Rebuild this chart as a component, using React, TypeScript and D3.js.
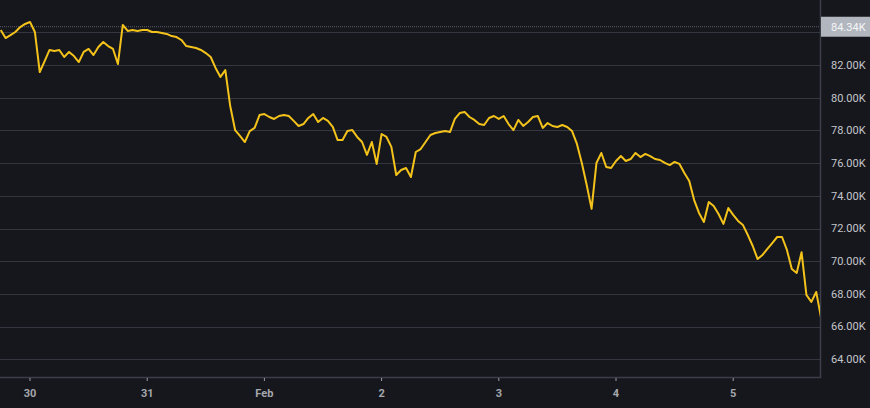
import React, { useEffect, useRef } from 'react'
import * as d3 from 'd3'

// hourly closes, in thousands, starting Jan 29 18:00
const startTime = new Date(2026, 0, 29, 18)
const prices = [
  84.14, 83.65, 83.83, 84.02, 84.32, 84.51, 84.63, 84.02, 81.57, 82.24,
  82.92, 82.86, 82.92, 82.49, 82.8, 82.55, 82.18, 82.8, 82.98, 82.61,
  83.1, 83.41, 83.16, 82.98, 82.06, 84.45, 84.08, 84.14, 84.08, 84.14,
  84.14, 84.02, 84.02, 83.96, 83.9, 83.77, 83.71, 83.53, 83.16, 83.1,
  83.04, 82.92, 82.73, 82.49, 81.82, 81.27, 81.69, 79.49, 78.02, 77.66,
  77.29, 77.96, 78.15, 78.94, 79.0, 78.82, 78.7, 78.88, 78.94, 78.88,
  78.58, 78.27, 78.39, 78.76, 79.0, 78.51, 78.76, 78.58, 78.21, 77.41,
  77.41, 77.96, 78.02, 77.6, 77.29, 76.5, 77.29, 75.95, 77.78, 77.6,
  76.99, 75.27, 75.58, 75.7, 75.15, 76.68, 76.86, 77.29, 77.72, 77.84,
  77.9, 77.96, 77.9, 78.7, 79.06, 79.13, 78.82, 78.64, 78.39, 78.33,
  78.76, 78.88, 78.7, 78.88, 78.39, 78.02, 78.64, 78.27, 78.51, 78.82,
  78.88, 78.15, 78.45, 78.27, 78.21, 78.33, 78.21, 77.96, 77.17, 76.01,
  74.66, 73.2, 76.01, 76.62, 75.76, 75.7, 76.13, 76.43, 76.13, 76.25,
  76.62, 76.37, 76.56, 76.43, 76.25, 76.19, 76.01, 75.88, 76.07, 75.95,
  75.39, 74.91, 73.74, 72.95, 72.4, 73.62, 73.38, 72.89, 72.28, 73.25,
  72.83, 72.46, 72.21, 71.6, 70.93, 70.13, 70.38, 70.75, 71.11, 71.48,
  71.48, 70.69, 69.52, 69.28, 70.55, 67.93, 67.51, 68.12, 66.53,
]
const yTicks = [64, 66, 68, 70, 72, 74, 76, 78, 80, 82, 84]
const lastPrice = 84.34

const W = 870
const H = 408
const plotRight = 820
const plotBottom = 377

export default function App() {
  const svgRef = useRef<SVGSVGElement | null>(null)

  useEffect(() => {
    const svg = d3.select(svgRef.current!)
    svg.selectAll('*').remove()

    const data = prices.map((p, i) => ({ t: d3.timeHour.offset(startTime, i), p }))

    const x = d3.scaleTime()
      .domain([startTime, d3.timeHour.offset(startTime, 168)])
      .range([0.7, 821.1])
    const y = d3.scaleLinear().domain([82, 64]).range([65, 359.3])

    svg.append('rect').attr('width', W).attr('height', H).attr('fill', '#16171c')

    svg.append('defs').append('clipPath').attr('id', 'plot-clip')
      .append('rect').attr('x', 0).attr('y', 0).attr('width', plotRight).attr('height', plotBottom)

    // grid
    svg.append('g').selectAll('line').data(yTicks).enter().append('line')
      .attr('x1', 0).attr('x2', plotRight)
      .attr('y1', d => Math.round(y(d)) + 0.5).attr('y2', d => Math.round(y(d)) + 0.5)
      .attr('stroke', '#34373f').attr('stroke-width', 1)

    // last price line
    svg.append('line')
      .attr('x1', 0).attr('x2', plotRight)
      .attr('y1', y(lastPrice)).attr('y2', y(lastPrice))
      .attr('stroke', '#5b5f68').attr('stroke-width', 1).attr('stroke-dasharray', '1,1')

    // border
    svg.append('path')
      .attr('d', `M0,${plotBottom + 0.5}H${plotRight + 0.5}V0`)
      .attr('fill', 'none').attr('stroke', '#3c3f47').attr('stroke-width', 1.5)

    // price line
    const line = d3.line<{ t: Date; p: number }>()
      .x(d => x(d.t)).y(d => y(d.p))
    svg.append('path').datum(data)
      .attr('clip-path', 'url(#plot-clip)')
      .attr('d', line)
      .attr('fill', 'none').attr('stroke', '#f3c21b').attr('stroke-width', 2)
      .attr('stroke-linejoin', 'round')

    // y labels
    svg.append('g').selectAll('text').data(yTicks.filter(d => d < 84)).enter().append('text')
      .attr('x', 831).attr('y', d => y(d)).attr('dy', '0.35em')
      .attr('font-family', 'Roboto, sans-serif').attr('font-size', 11)
      .attr('fill', '#c4c6cc')
      .text(d => d3.format('.2f')(d) + 'K')

    svg.append('rect')
      .attr('x', plotRight + 1).attr('y', y(lastPrice) - 10).attr('width', W - plotRight - 1).attr('height', 20)
      .attr('fill', '#b2b6be')
    svg.append('text')
      .attr('x', 831).attr('y', y(lastPrice)).attr('dy', '0.35em')
      .attr('font-family', 'Roboto, sans-serif').attr('font-size', 11)
      .attr('fill', '#f5f6f8')
      .text(d3.format('.2f')(lastPrice) + 'K')

    // x axis
    const days = d3.timeDay.range(new Date(2026, 0, 30), new Date(2026, 1, 6))
    const fmt = (d: Date) => (d.getDate() === 1 ? d3.timeFormat('%b')(d) : d3.timeFormat('%-d')(d))
    const xg = svg.append('g')
    xg.selectAll('line').data(days).enter().append('line')
      .attr('x1', d => x(d)).attr('x2', d => x(d))
      .attr('y1', plotBottom + 1).attr('y2', plotBottom + 4)
      .attr('stroke', '#9a9da4').attr('stroke-width', 1)
    xg.selectAll('text').data(days).enter().append('text')
      .attr('x', d => x(d)).attr('y', 397)
      .attr('text-anchor', 'middle')
      .attr('font-family', 'Roboto, sans-serif').attr('font-size', 11).attr('font-weight', 'bold')
      .attr('fill', '#a4a7ad')
      .text(fmt)
  }, [])

  return (
    <svg ref={svgRef} width={W} height={H}
      style={{ position: 'absolute', left: 0, top: 0, display: 'block' }} />
  )
}
